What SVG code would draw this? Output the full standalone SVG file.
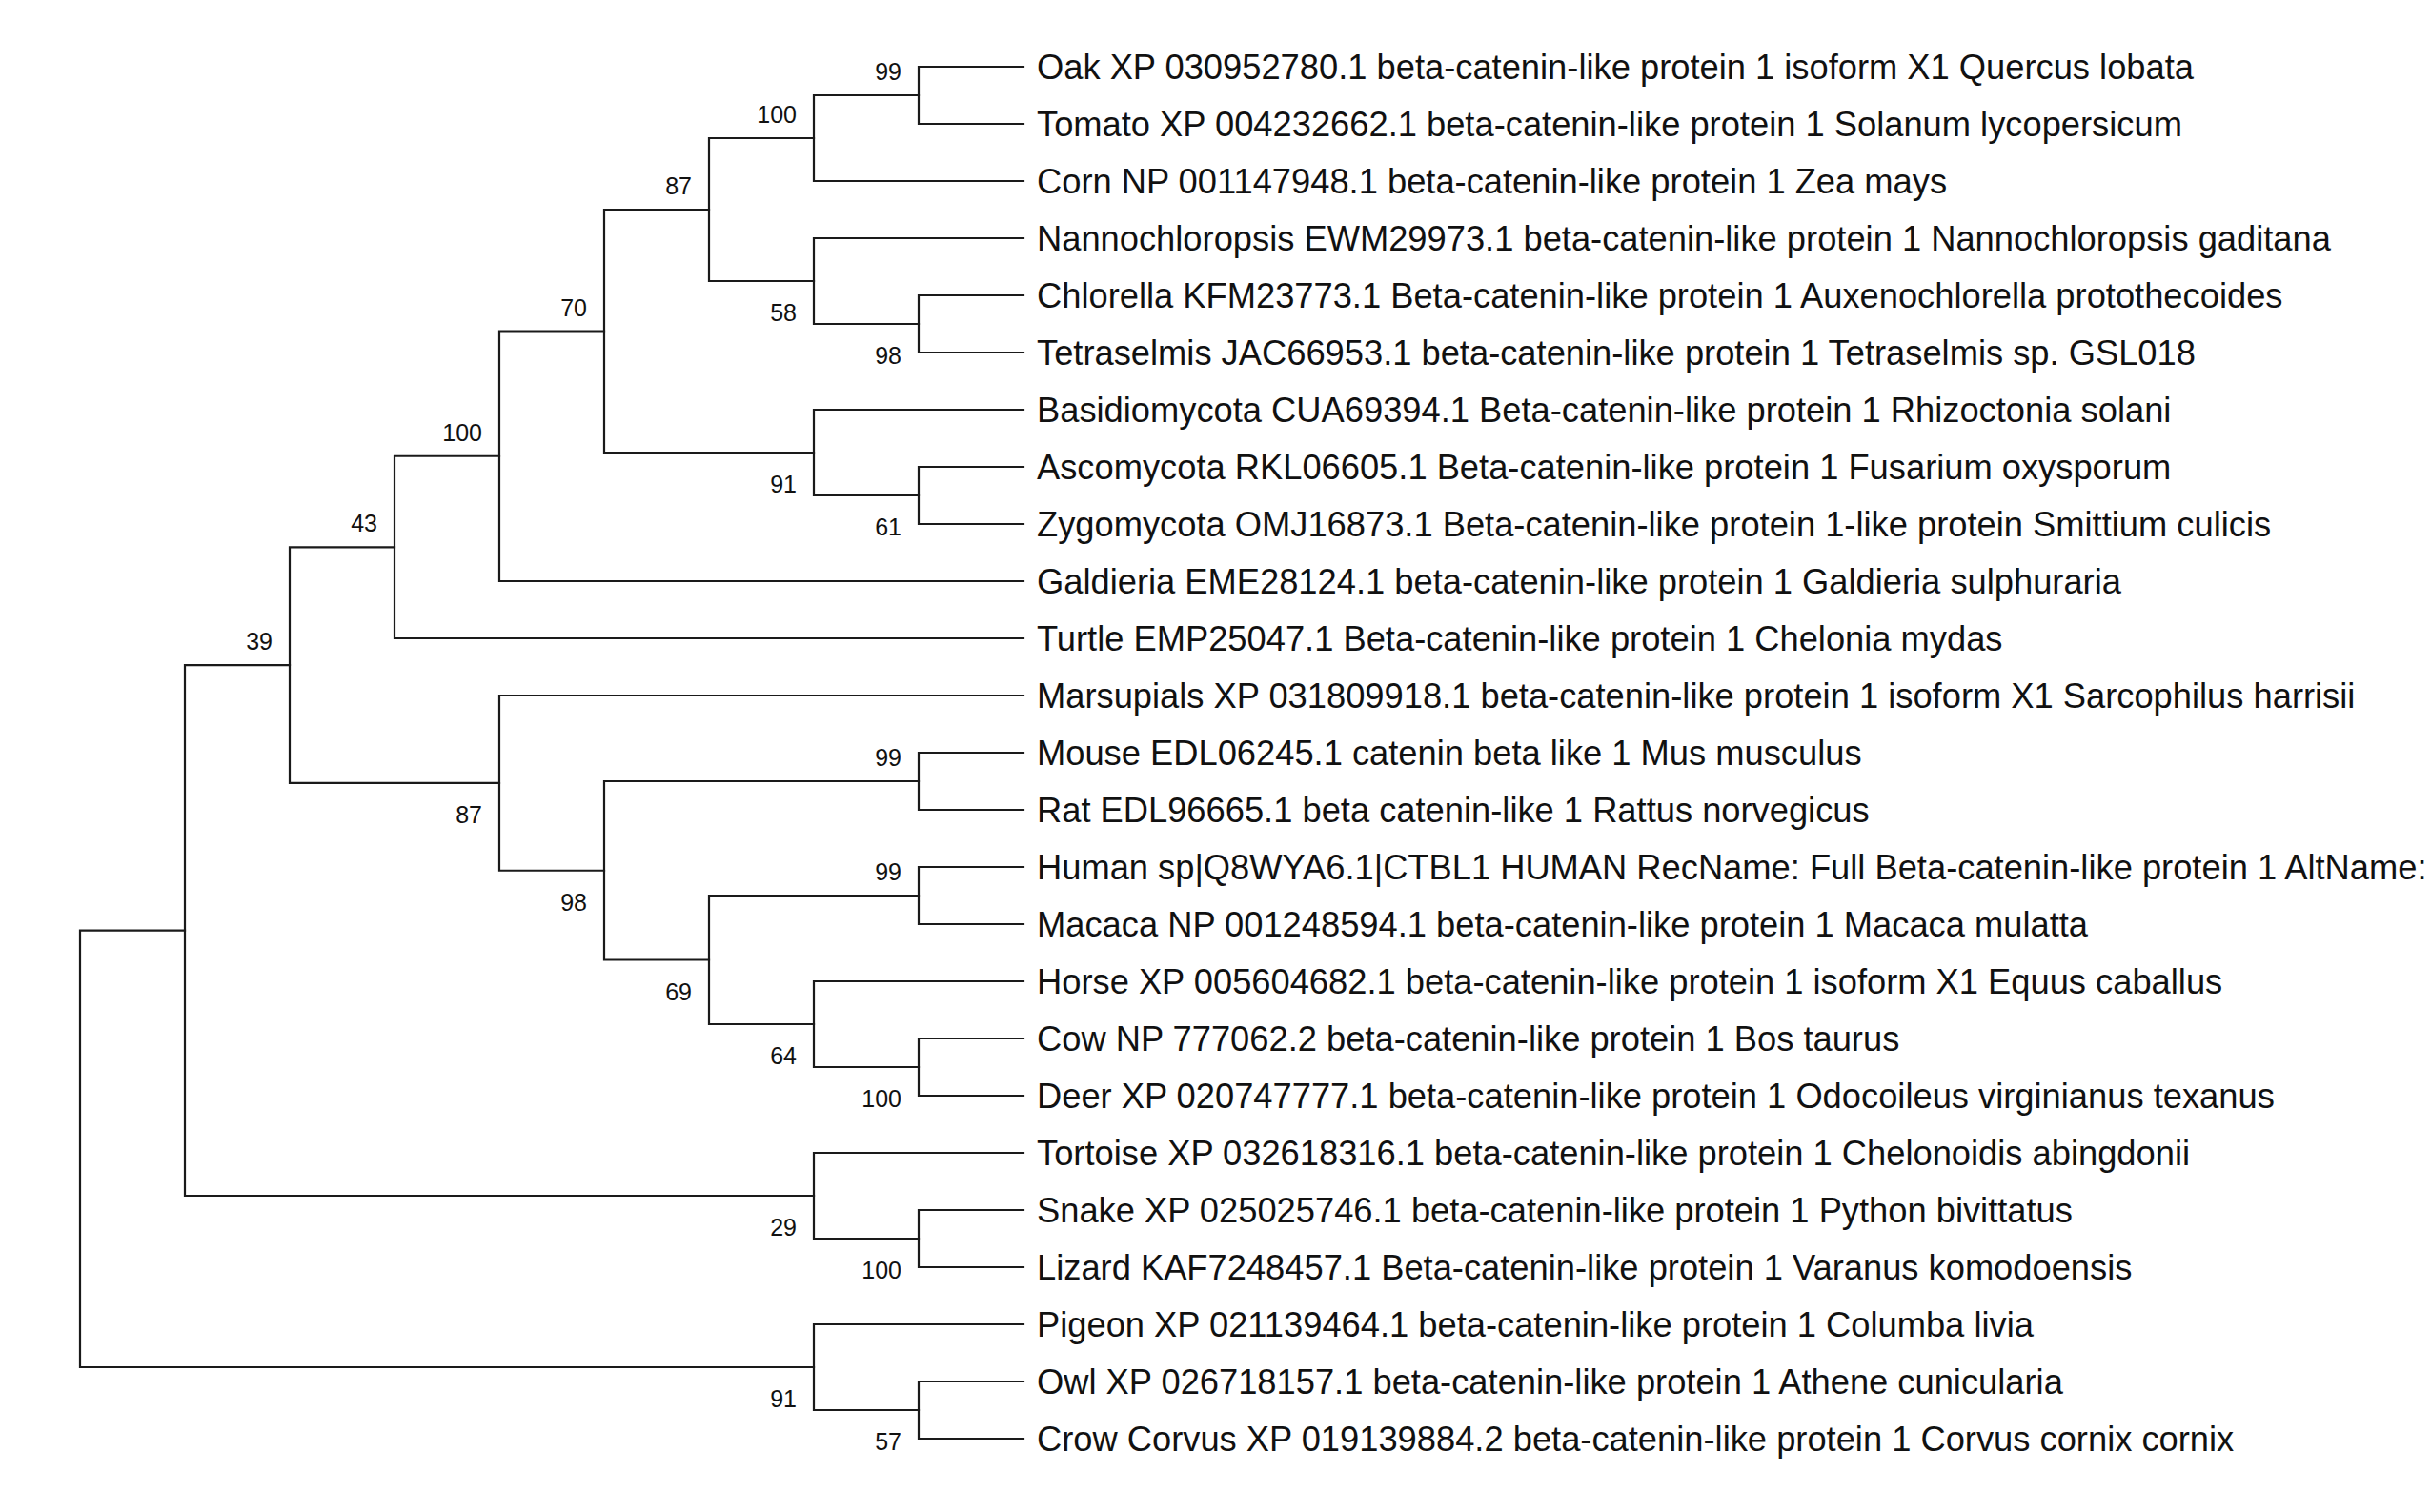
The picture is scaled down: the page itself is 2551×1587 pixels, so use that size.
<svg xmlns="http://www.w3.org/2000/svg" width="2551" height="1587" viewBox="0 0 2551 1587">
<style>
.br{fill:none;stroke:#1a1a1a;stroke-width:2.2;stroke-linecap:square}
.lf{font-family:"Liberation Sans",Arial,sans-serif;font-size:36.3px;fill:#111}
.bs{font-family:"Liberation Sans",Arial,sans-serif;font-size:25px;fill:#111;text-anchor:end}
</style>
<rect width="2551" height="1587" fill="#fff"/>
<g id="connectors">
<path class="br" d="M964 70V130M964 70H1074M964 130H1074"/>
<path class="br" d="M854 100V190M854 100H964M854 190H1074"/>
<path class="br" d="M964 310V370M964 310H1074M964 370H1074"/>
<path class="br" d="M854 250V340M854 250H1074M854 340H964"/>
<path class="br" d="M744 145V295M744 145H854M744 295H854"/>
<path class="br" d="M964 490V550M964 490H1074M964 550H1074"/>
<path class="br" d="M854 430V520M854 430H1074M854 520H964"/>
<path class="br" d="M634 220V475M634 220H744M634 475H854"/>
<path class="br" d="M524 347.5V610M524 347.5H634M524 610H1074"/>
<path class="br" d="M414 478.75V670M414 478.75H524M414 670H1074"/>
<path class="br" d="M964 790V850M964 790H1074M964 850H1074"/>
<path class="br" d="M964 910V970M964 910H1074M964 970H1074"/>
<path class="br" d="M964 1090V1150M964 1090H1074M964 1150H1074"/>
<path class="br" d="M854 1030V1120M854 1030H1074M854 1120H964"/>
<path class="br" d="M744 940V1075M744 940H964M744 1075H854"/>
<path class="br" d="M634 820V1007.5M634 820H964M634 1007.5H744"/>
<path class="br" d="M524 730V913.75M524 730H1074M524 913.75H634"/>
<path class="br" d="M304 574.4V821.9M304 574.4H414M304 821.9H524"/>
<path class="br" d="M964 1270V1330M964 1270H1074M964 1330H1074"/>
<path class="br" d="M854 1210V1300M854 1210H1074M854 1300H964"/>
<path class="br" d="M194 698.1V1255M194 698.1H304M194 1255H854"/>
<path class="br" d="M964 1450V1510M964 1450H1074M964 1510H1074"/>
<path class="br" d="M854 1390V1480M854 1390H1074M854 1480H964"/>
<path class="br" d="M84 976.6V1435M84 976.6H194M84 1435H854"/>
</g>
<g id="leaves">
<g id="leaf-oak"><text class="lf" x="1088" y="83">Oak XP 030952780.1 beta-catenin-like protein 1 isoform X1 Quercus lobata</text></g>
<g id="leaf-tomato"><text class="lf" x="1088" y="143">Tomato XP 004232662.1 beta-catenin-like protein 1 Solanum lycopersicum</text></g>
<g id="leaf-corn"><text class="lf" x="1088" y="203">Corn NP 001147948.1 beta-catenin-like protein 1 Zea mays</text></g>
<g id="leaf-nannochloropsis"><text class="lf" x="1088" y="263">Nannochloropsis EWM29973.1 beta-catenin-like protein 1 Nannochloropsis gaditana</text></g>
<g id="leaf-chlorella"><text class="lf" x="1088" y="323">Chlorella KFM23773.1 Beta-catenin-like protein 1 Auxenochlorella protothecoides</text></g>
<g id="leaf-tetraselmis"><text class="lf" x="1088" y="383">Tetraselmis JAC66953.1 beta-catenin-like protein 1 Tetraselmis sp. GSL018</text></g>
<g id="leaf-basidiomycota"><text class="lf" x="1088" y="443">Basidiomycota CUA69394.1 Beta-catenin-like protein 1 Rhizoctonia solani</text></g>
<g id="leaf-ascomycota"><text class="lf" x="1088" y="503">Ascomycota RKL06605.1 Beta-catenin-like protein 1 Fusarium oxysporum</text></g>
<g id="leaf-zygomycota"><text class="lf" x="1088" y="563">Zygomycota OMJ16873.1 Beta-catenin-like protein 1-like protein Smittium culicis</text></g>
<g id="leaf-galdieria"><text class="lf" x="1088" y="623">Galdieria EME28124.1 beta-catenin-like protein 1 Galdieria sulphuraria</text></g>
<g id="leaf-turtle"><text class="lf" x="1088" y="683">Turtle EMP25047.1 Beta-catenin-like protein 1 Chelonia mydas</text></g>
<g id="leaf-marsupials"><text class="lf" x="1088" y="743">Marsupials XP 031809918.1 beta-catenin-like protein 1 isoform X1 Sarcophilus harrisii</text></g>
<g id="leaf-mouse"><text class="lf" x="1088" y="803">Mouse EDL06245.1 catenin beta like 1 Mus musculus</text></g>
<g id="leaf-rat"><text class="lf" x="1088" y="863">Rat EDL96665.1 beta catenin-like 1 Rattus norvegicus</text></g>
<g id="leaf-human"><text class="lf" x="1088" y="923">Human sp|Q8WYA6.1|CTBL1 HUMAN RecName: Full Beta-catenin-like protein 1 AltName:</text></g>
<g id="leaf-macaca"><text class="lf" x="1088" y="983">Macaca NP 001248594.1 beta-catenin-like protein 1 Macaca mulatta</text></g>
<g id="leaf-horse"><text class="lf" x="1088" y="1043">Horse XP 005604682.1 beta-catenin-like protein 1 isoform X1 Equus caballus</text></g>
<g id="leaf-cow"><text class="lf" x="1088" y="1103">Cow NP 777062.2 beta-catenin-like protein 1 Bos taurus</text></g>
<g id="leaf-deer"><text class="lf" x="1088" y="1163">Deer XP 020747777.1 beta-catenin-like protein 1 Odocoileus virginianus texanus</text></g>
<g id="leaf-tortoise"><text class="lf" x="1088" y="1223">Tortoise XP 032618316.1 beta-catenin-like protein 1 Chelonoidis abingdonii</text></g>
<g id="leaf-snake"><text class="lf" x="1088" y="1283">Snake XP 025025746.1 beta-catenin-like protein 1 Python bivittatus</text></g>
<g id="leaf-lizard"><text class="lf" x="1088" y="1343">Lizard KAF7248457.1 Beta-catenin-like protein 1 Varanus komodoensis</text></g>
<g id="leaf-pigeon"><text class="lf" x="1088" y="1403">Pigeon XP 021139464.1 beta-catenin-like protein 1 Columba livia</text></g>
<g id="leaf-owl"><text class="lf" x="1088" y="1463">Owl XP 026718157.1 beta-catenin-like protein 1 Athene cunicularia</text></g>
<g id="leaf-crow"><text class="lf" x="1088" y="1523">Crow Corvus XP 019139884.2 beta-catenin-like protein 1 Corvus cornix cornix</text></g>
</g>
<g id="internal-nodes">
<g id="n-oak-tomato"><text class="bs" x="946" y="84">99</text></g>
<g id="n-plants"><text class="bs" x="836" y="129">100</text></g>
<g id="n-chlorella-tetraselmis"><text class="bs" x="946" y="382">98</text></g>
<g id="n-algae"><text class="bs" x="836" y="337">58</text></g>
<g id="n-green"><text class="bs" x="726" y="204">87</text></g>
<g id="n-asco-zygo"><text class="bs" x="946" y="562">61</text></g>
<g id="n-fungi"><text class="bs" x="836" y="517">91</text></g>
<g id="n-70"><text class="bs" x="616" y="331.5">70</text></g>
<g id="n-galdieria"><text class="bs" x="506" y="462.75">100</text></g>
<g id="n-turtle"><text class="bs" x="396" y="558.4">43</text></g>
<g id="n-mouse-rat"><text class="bs" x="946" y="804">99</text></g>
<g id="n-human-macaca"><text class="bs" x="946" y="924">99</text></g>
<g id="n-cow-deer"><text class="bs" x="946" y="1162">100</text></g>
<g id="n-horse"><text class="bs" x="836" y="1117">64</text></g>
<g id="n-69"><text class="bs" x="726" y="1049.5">69</text></g>
<g id="n-98"><text class="bs" x="616" y="955.75">98</text></g>
<g id="n-mammals"><text class="bs" x="506" y="863.9">87</text></g>
<g id="n-39"><text class="bs" x="286" y="682.1">39</text></g>
<g id="n-snake-lizard"><text class="bs" x="946" y="1342">100</text></g>
<g id="n-reptiles"><text class="bs" x="836" y="1297">29</text></g>
<g id="n-owl-crow"><text class="bs" x="946" y="1522">57</text></g>
<g id="n-birds"><text class="bs" x="836" y="1477">91</text></g>
<g id="n-ingroup"/>
<g id="n-root"/>
</g>
</svg>
